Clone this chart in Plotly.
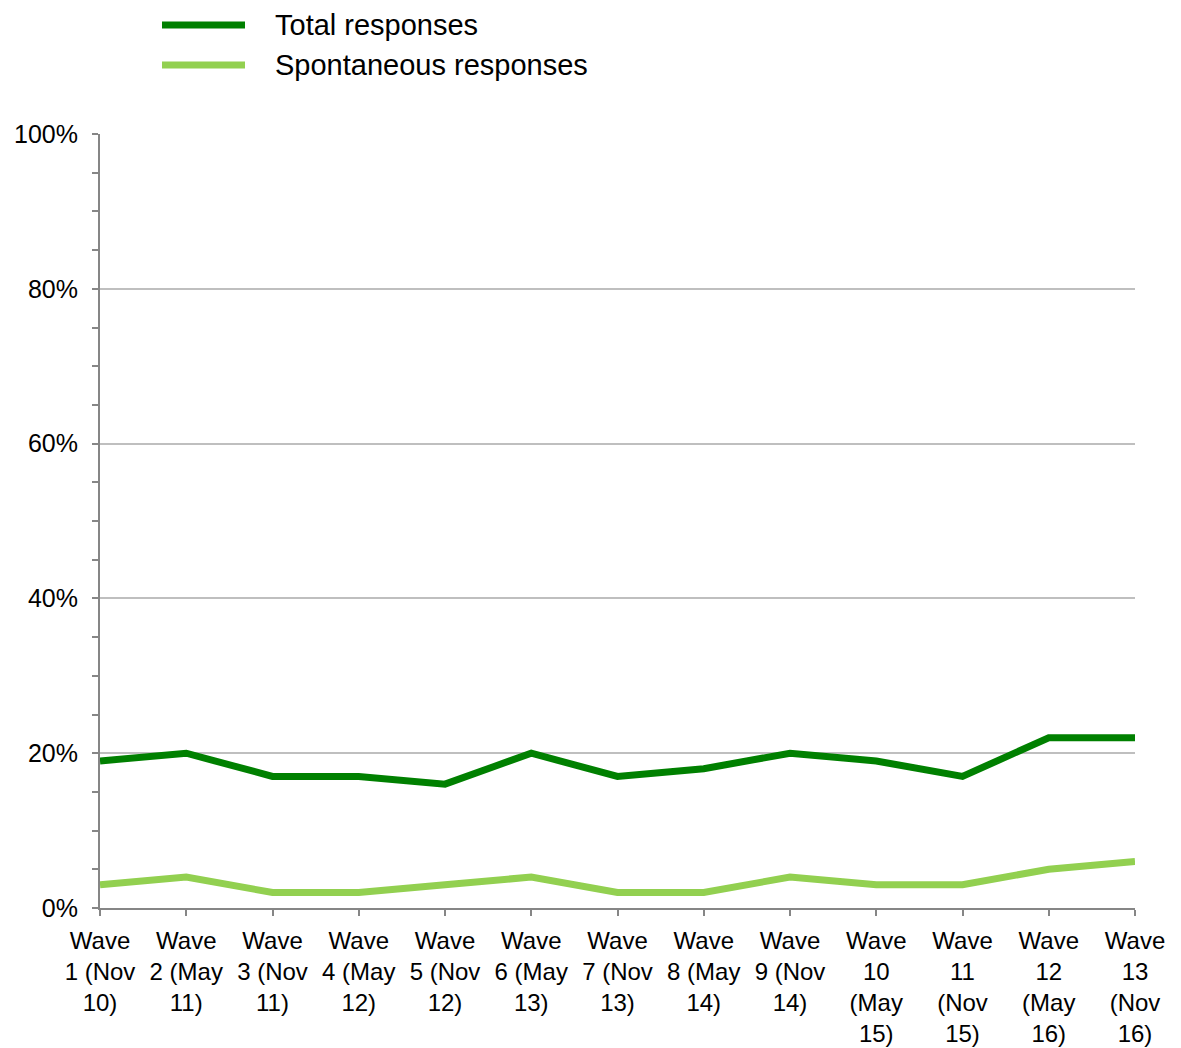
import plotly.graph_objects as go

categories = ["Wave<br>1 (Nov<br>10)", "Wave<br>2 (May<br>11)", "Wave<br>3 (Nov<br>11)", "Wave<br>4 (May<br>12)",
              "Wave<br>5 (Nov<br>12)", "Wave<br>6 (May<br>13)", "Wave<br>7 (Nov<br>13)", "Wave<br>8 (May<br>14)",
              "Wave<br>9 (Nov<br>14)", "Wave<br>10<br>(May<br>15)", "Wave<br>11<br>(Nov<br>15)",
              "Wave<br>12<br>(May<br>16)", "Wave<br>13<br>(Nov<br>16)"]
total = [0.19, 0.20, 0.17, 0.17, 0.16, 0.20, 0.17, 0.18, 0.20, 0.19, 0.17, 0.22, 0.22]
spontaneous = [0.03, 0.04, 0.02, 0.02, 0.03, 0.04, 0.02, 0.02, 0.04, 0.03, 0.03, 0.05, 0.06]
series_names = ["Total responses", "Spontaneous responses"]
colors = ["#008000", "#92D050"]

x = list(range(len(categories)))
fig = go.Figure()
for name, vals, c in zip(series_names, [total, spontaneous], colors):
    fig.add_trace(go.Scatter(x=x, y=vals, mode="lines", name=name,
                             line=dict(color=c, width=7), showlegend=False))

font = "Liberation Sans, Arial, sans-serif"
# manual legend (paper coordinates)
for i, (name, c) in enumerate(zip(series_names, colors)):
    ypx = 25 + 40 * i
    yp = (908 - ypx) / 774
    fig.add_shape(type="line", xref="paper", yref="paper",
                  x0=(162 - 100) / 1035, x1=(245 - 100) / 1035,
                  y0=yp, y1=yp, line=dict(color=c, width=7))
    fig.add_annotation(xref="paper", yref="paper", x=(273 - 100) / 1035,
                       y=yp, text=name, showarrow=False,
                       xanchor="left", yanchor="middle",
                       font=dict(family=font, size=29, color="#000000"))

fig.update_layout(
    width=1173, height=1040,
    margin=dict(l=92, r=46, t=126, b=140, autoexpand=False),
    paper_bgcolor="white", plot_bgcolor="white",
    font=dict(family=font, size=25, color="#000000"),
)
fig.update_xaxes(range=[0, 12], tickmode="array", tickvals=x, ticktext=categories,
                 tickfont=dict(size=24),
                 showline=True, linecolor="#868686", linewidth=2, ticks="outside",
                 ticklen=6, tickcolor="#868686", tickwidth=2, showgrid=False,
                 zeroline=False, tickangle=0, ticklabelstandoff=4)
fig.update_yaxes(range=[0, 1], dtick=0.2, tickformat=".0%", showline=True,
                 linecolor="#868686", linewidth=2, ticks="outside", ticklen=6,
                 tickcolor="#868686", tickwidth=2, showgrid=True, gridcolor="#BFBFBF",
                 gridwidth=1.5, zeroline=False, ticklabelstandoff=9,
                 minor=dict(dtick=0.05, ticks="outside", ticklen=6, tickcolor="#868686",
                            tickwidth=2, showgrid=False))
fig.write_html("out.html")
